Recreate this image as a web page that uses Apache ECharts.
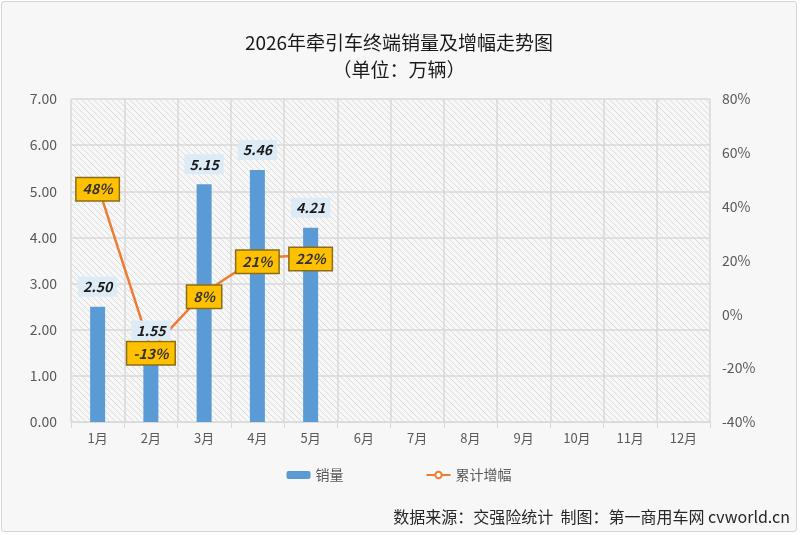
<!DOCTYPE html>
<html>
<head>
<meta charset="utf-8">
<script src="https://cdn.jsdelivr.net/npm/echarts@6/dist/echarts.min.js"></script>
<style>
  html, body { margin: 0; padding: 0; background: #fff; }
  #wrap {
    width: 796px; height: 531px; margin: 1px;
    border: 1px solid #d6d6d6; border-radius: 3px;
    background: #f7f7f7; box-sizing: border-box;
  }
  #chart { width: 794px; height: 529px; }
</style>
</head>
<body>
<div id="wrap"><div id="chart"></div></div>
<script>
const months = ['1月', '2月', '3月', '4月', '5月', '6月', '7月', '8月', '9月', '10月', '11月', '12月'];
const sales = [2.50, 1.55, 5.15, 5.46, 4.21];
const growth = [48, -13, 8, 21, 22];

// diagonal hatch for the plot area
const hatch = document.createElement('canvas');
hatch.width = 6;
hatch.height = 6;
const hctx = hatch.getContext('2d');
hctx.fillStyle = '#f7f7f7';
hctx.fillRect(0, 0, 6, 6);
hctx.strokeStyle = '#dcdcdc';
hctx.lineWidth = 1;
hctx.beginPath();
hctx.moveTo(-1, -1); hctx.lineTo(7, 7);
hctx.moveTo(-4, 2); hctx.lineTo(4, 10);
hctx.moveTo(2, -4); hctx.lineTo(10, 4);
hctx.stroke();

const font = '"Noto Sans CJK SC", "Noto Sans", sans-serif';
const barLabel = {
  show: true,
  position: 'top',
  distance: 10,
  formatter: p => p.value.toFixed(2),
  backgroundColor: '#ddebf7',
  padding: [3, 5],
  color: '#1a1a1a',
  fontSize: 14,
  fontWeight: 'bold',
  fontStyle: 'italic',
  fontFamily: font
};

const chart = echarts.init(document.getElementById('chart'));

chart.setOption({
  animation: false,
  textStyle: { fontFamily: font },
  title: {
    text: '2026年牵引车终端销量及增幅走势图\n（单位：万辆）',
    left: 'center',
    top: 22,
    textStyle: { fontSize: 19, fontWeight: 'normal', color: '#1a1a1a', lineHeight: 27, fontFamily: font }
  },
  legend: {
    bottom: 44,
    left: 'center',
    itemGap: 82,
    itemWidth: 24,
    itemHeight: 8,
    textStyle: { fontSize: 14, color: '#595959' },
    data: ['销量', '累计增幅']
  },
  graphic: [{
    type: 'text',
    right: 6,
    bottom: 6,
    style: {
      text: '数据来源：交强险统计  制图：第一商用车网 cvworld.cn',
      fontSize: 16, fill: '#262626', fontFamily: font
    }
  }],
  grid: {
    left: 69, right: 86, top: 97, bottom: 109,
    show: true,
    backgroundColor: { image: hatch, repeat: 'repeat' },
    borderWidth: 0
  },
  xAxis: {
    type: 'category',
    data: months,
    axisLine: { lineStyle: { color: '#d9d9d9' } },
    axisTick: { show: true, length: 6, lineStyle: { color: '#d9d9d9' } },
    axisLabel: { color: '#595959', fontSize: 13, margin: 10 },
    splitLine: { show: true, lineStyle: { color: '#d9d9d9', width: 1.5 } }
  },
  yAxis: [{
    type: 'value',
    min: 0, max: 7, interval: 1,
    axisLabel: { color: '#595959', fontSize: 14, formatter: v => v.toFixed(2), margin: 14 },
    axisLine: { show: false },
    splitLine: { lineStyle: { color: '#d9d9d9', width: 1.5 } }
  }, {
    type: 'value',
    min: -40, max: 80, interval: 20,
    axisLabel: { color: '#595959', fontSize: 14, formatter: '{value}%', margin: 12 },
    axisLine: { show: false },
    splitLine: { show: false }
  }],
  series: [{
    name: '销量',
    type: 'bar',
    data: sales,
    barWidth: 15,
    itemStyle: { color: '#5b9bd5' },
    z: 2
  }, {
    name: '累计增幅',
    type: 'line',
    yAxisIndex: 1,
    data: growth,
    symbol: 'emptyCircle',
    symbolSize: 7,
    lineStyle: { color: '#ed7d31', width: 2.5 },
    itemStyle: { color: '#ed7d31', borderWidth: 2 },
    z: 5,
    label: {
      show: true,
      position: 'inside',
      offset: [0, 4],
      formatter: '{c}%',
      backgroundColor: '#ffc000',
      borderColor: '#8a6d1a',
      borderWidth: 1.5,
      padding: [4, 6],
      color: '#333',
      fontSize: 14,
      fontWeight: 'bold',
      fontStyle: 'italic',
      fontFamily: font
    }
  }, {
    // transparent copy of the bars so the value labels sit above the line
    name: '销量标签',
    type: 'bar',
    data: sales,
    barWidth: 15,
    barGap: '-100%',
    itemStyle: { color: 'rgba(0,0,0,0)' },
    label: barLabel,
    z: 8,
    silent: true
  }]
});
</script>
</body>
</html>
